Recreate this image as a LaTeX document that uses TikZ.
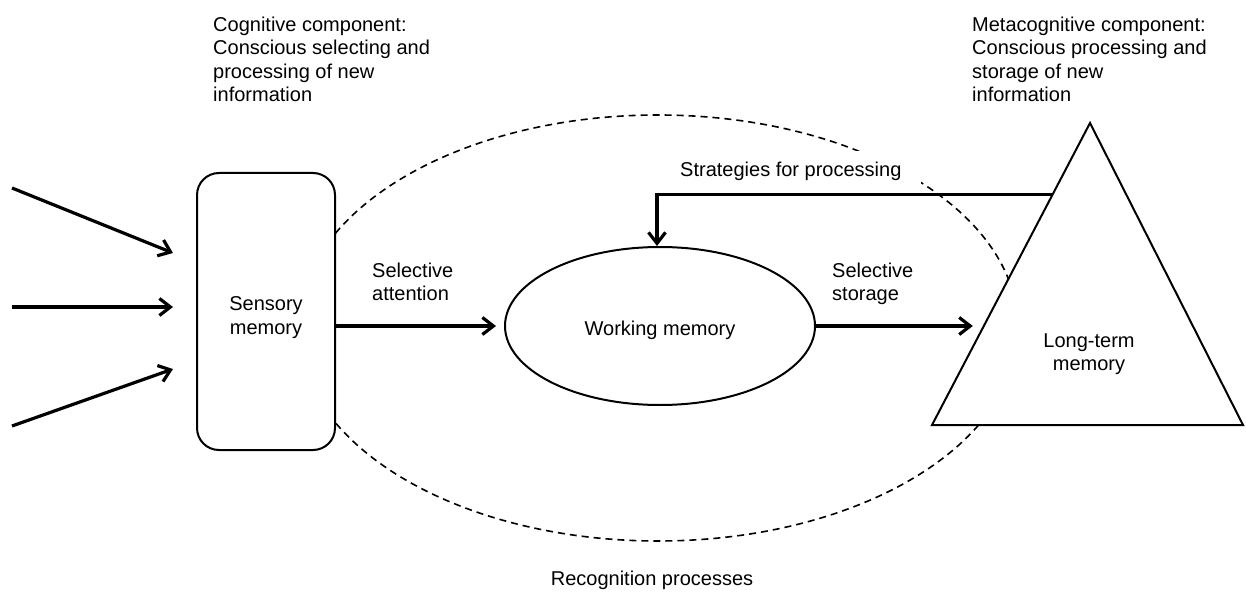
\documentclass[tikz,border=0pt]{standalone}
\usepackage{fontspec}
\setmainfont{Liberation Sans}
\usetikzlibrary{shapes.geometric,arrows.meta,calc}
\begin{document}
\begin{tikzpicture}[x=1pt,y=-1pt,
  every node/.style={font=\fontsize{20}{23.5}\selectfont},
  txt/.style={inner sep=0pt,align=left},
  shapeline/.style={draw=black,line width=2pt,fill=white},
  conn/.style={line width=3.2pt,-{Straight Barb[length=11pt,width=17pt,line width=3.2pt]}},
  recog/.style={line width=1.6pt,dash pattern=on 7pt off 5pt}]
\useasboundingbox (0,0) rectangle (1246,593);
% recognition processes (dashed ellipse, behind everything)
\draw[recog] (658,328) ellipse [x radius=360pt, y radius=213pt];
% labels on top
\node[txt,anchor=north west] (cog) at (213,16.5) {Cognitive component:\\Conscious selecting and\\processing of new\\information};
\node[txt,anchor=north west] (meta) at (972,16.5) {Metacognitive component:\\Conscious processing and\\storage of new\\information};
\node[anchor=base west,fill=white,inner xsep=20pt,inner ysep=12pt] (strat) at (660,177) {Strategies for processing};
\node[anchor=base] (rec) at (652,585) {Recognition processes};
% sensory memory
\node[shapeline,rounded corners=22pt,minimum width=138pt,minimum height=277pt,align=center,text height=49.5pt,text depth=4.5pt] (sm) at (266,311.5) {Sensory\\memory};
% working memory
\node[shapeline,ellipse,minimum width=310pt,minimum height=158pt,inner sep=0pt,text height=19pt,text depth=0pt] (wm) at (660,326) {Working memory};
% long-term memory triangle
\coordinate (ta) at (1090,123);
\coordinate (tl) at (932,425);
\coordinate (tr) at (1243,425);
\draw[shapeline] (ta) -- (tl) -- (tr) -- cycle;
\node[txt,align=center,anchor=north] (ltm) at (1089,333.5) {Long-term\\memory};
% input arrows
\coordinate (in1a) at (12,188);  \coordinate (in1b) at (173,253);
\coordinate (in2a) at (12,307);  \coordinate (in2b) at (173,307);
\coordinate (in3a) at (12,426);  \coordinate (in3b) at (173,369);
\draw[conn] (in1a) -- (in1b);
\draw[conn] (in2a) -- (in2b);
\draw[conn] (in3a) -- (in3b);
% selective attention
\draw[conn,shorten >=8pt] (sm.east |- wm.west) -- (wm.west);
\node[txt,anchor=north west] (selatt) at (372,262.5) {Selective\\attention};
% selective storage
\coordinate (ltmin) at ($(ta)!0.672!(tl)$);
\draw[conn,shorten >=11pt] (wm.east) -- (wm.east -| ltmin);
\node[txt,anchor=north west] (selsto) at (832,262.5) {Selective\\storage};
% strategies for processing
\coordinate (ltmout) at ($(ta)!0.238!(tl)$);
\draw[conn] (ltmout) -| ([xshift=-3pt]wm.north);
\end{tikzpicture}
\end{document}
